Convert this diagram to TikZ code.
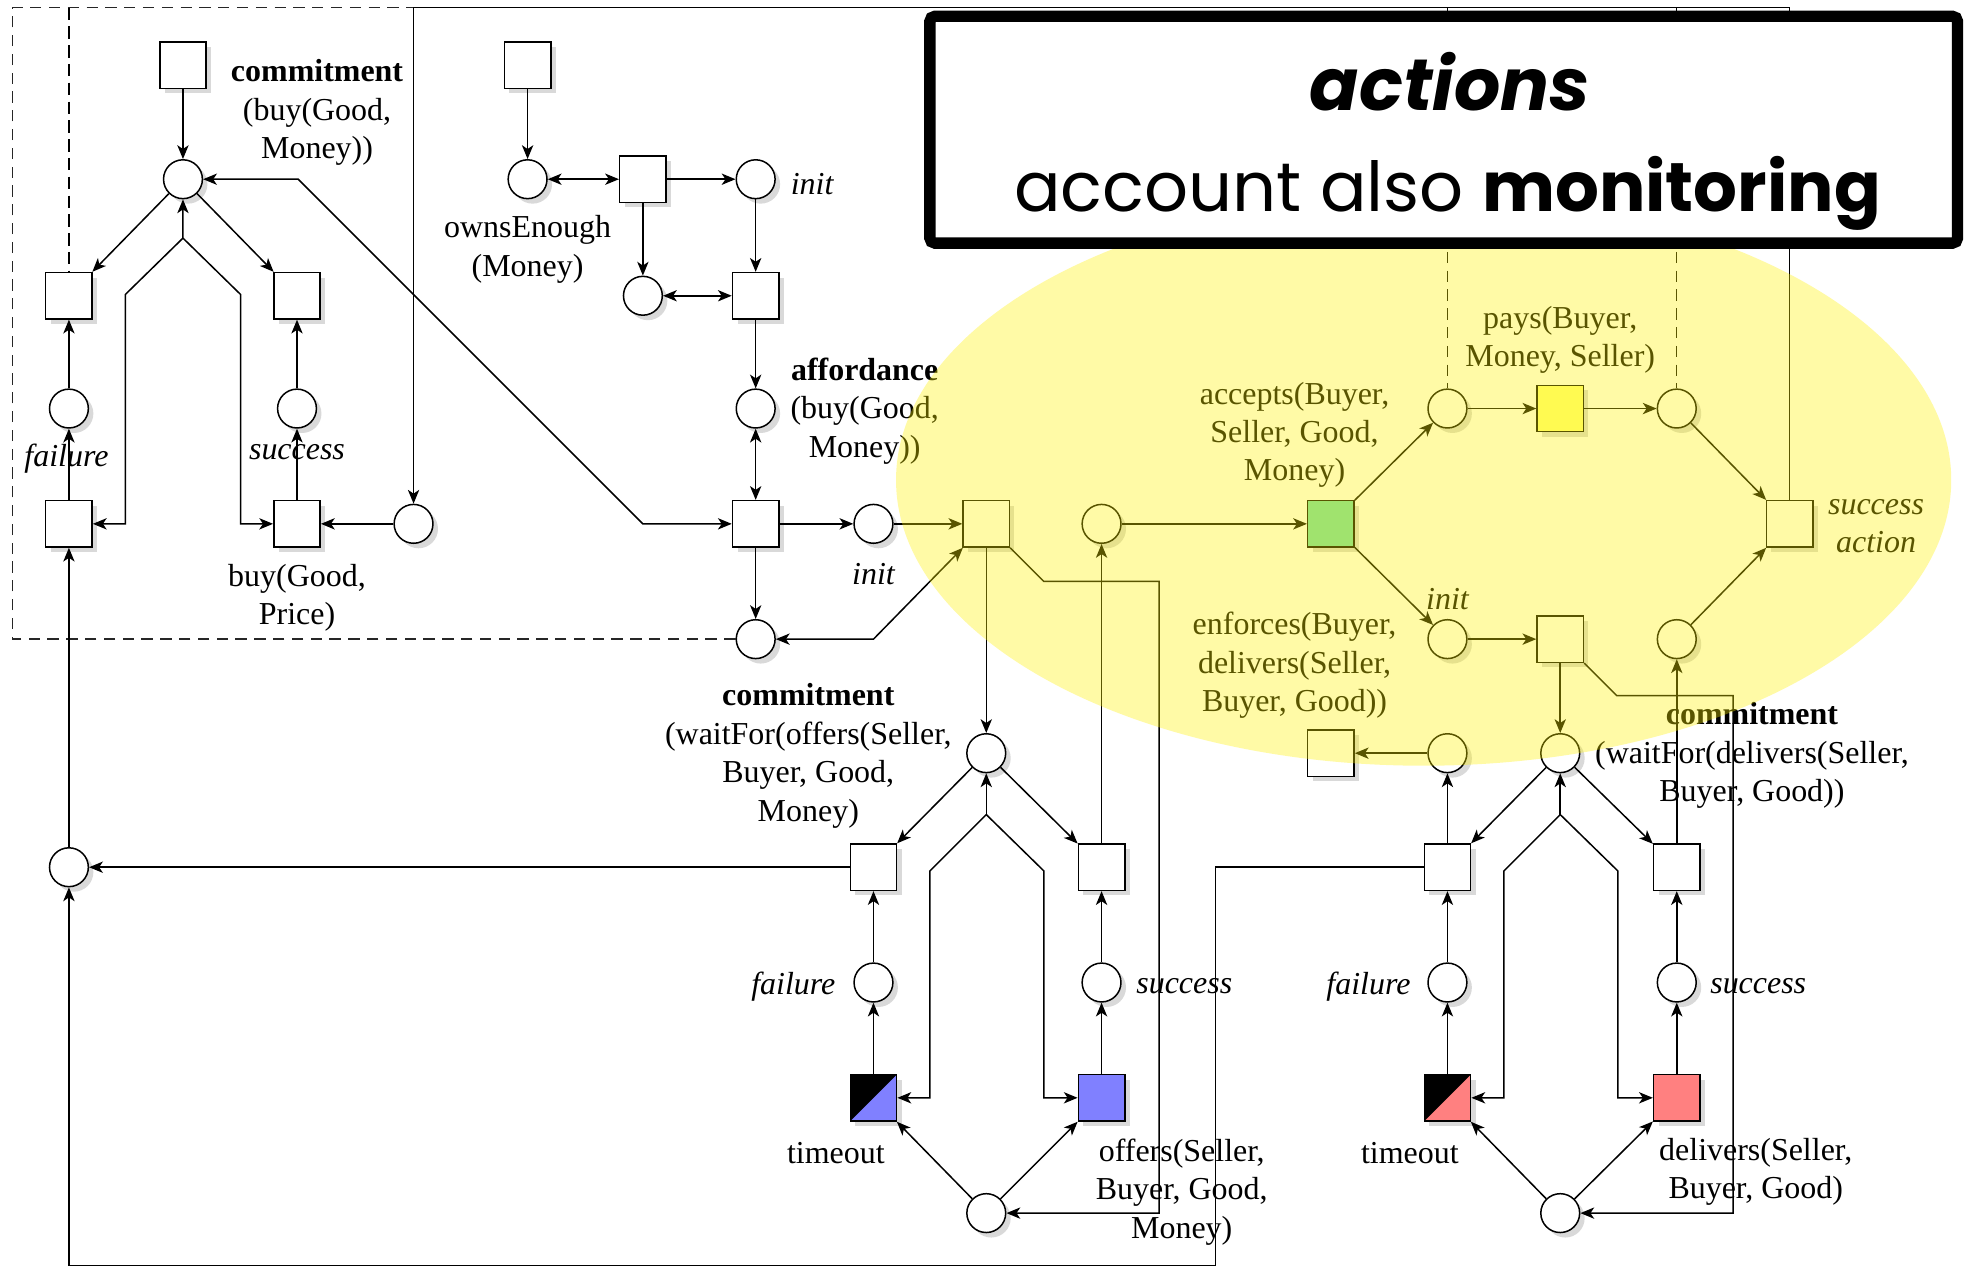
\documentclass[tikz,border=0pt]{standalone}
\usepackage{fontspec}
\setmainfont{Liberation Serif}
\newfontfamily\boxfont{Poppins}
\usetikzlibrary{arrows.meta,shadows}
\definecolor{acceptgreen}{RGB}{110,220,170}
\definecolor{paysyellow}{RGB}{255,255,125}
\definecolor{offerblue}{RGB}{128,128,255}
\definecolor{deliverred}{RGB}{255,128,128}

\begin{document}
\begin{tikzpicture}[x=1pt,y=-1pt,
  every node/.style={font=\fontsize{25.5}{30.7}\selectfont},
  shade/.style={drop shadow={shadow xshift=4pt,shadow yshift=-4pt,opacity=1,fill=black!15}},
  place/.style={circle,draw,line width=1.2pt,minimum size=31pt,inner sep=0pt,fill=white,shade},
  trans/.style={rectangle,draw,line width=1.2pt,minimum size=37pt,inner sep=0pt,fill=white,shade},
  ctrans/.style={trans,fill=#1},
  split/.style={trans,fill=#1,path picture={\fill[black]
      (path picture bounding box.north west) -- (path picture bounding box.north east)
      -- (path picture bounding box.south west) -- cycle;}},
  lbl/.style={align=center,inner sep=0pt,yshift=-3pt},
  ilbl/.style={lbl,font=\fontsize{25.5}{30.7}\selectfont\itshape},
  tip/.tip={Stealth[length=11pt,width=9pt,inset=3pt]},
  arr/.style={line width=1.2pt,-tip},
  darr/.style={line width=1.2pt,tip-tip},
  border/.style={line width=1.2pt,black!85,dash pattern=on 9pt off 6pt},
  link/.style={line width=2pt,dash pattern=on 10pt off 5pt},
  sublink/.style={line width=1pt,dash pattern=on 9pt off 6pt},
]
\useasboundingbox (0,0) rectangle (1568,1013);
\fill[white] (0,0) rectangle (1568,1013);

% ---------- buy commitment (top left) ----------
\node[trans] (tA) at (146,52) {};
\node[place] (pA) at (146,143) {};
\node[trans] (tAf) at (55,236) {};
\node[trans] (tAs) at (237,236) {};
\node[place] (pAf) at (55,326) {};
\node[place] (pAs) at (237,326) {};
\node[trans] (tAfb) at (55,418) {};
\node[trans] (tAsb) at (237,418) {};
\node[place] (pB) at (330,418) {};
\node[place] (pL) at (55,692) {};
\coordinate (apA) at (146,190);

\node[lbl] (lA) at (253,87) {\textbf{commitment}\\(buy(Good,\\Money))};
\node[ilbl] (lAf) at (53,363) {failure};
\node[ilbl] (lAs) at (237,358) {success};
\node[lbl] (lAb) at (237,474) {buy(Good,\\Price)};

% ---------- ownsEnough / affordance (top middle) ----------
\node[trans] (tO) at (421,52) {};
\node[place] (pO) at (421,143) {};
\node[trans] (tM1) at (513,143) {};
\node[place] (pI1) at (603,143) {};
\node[place] (pM) at (513,236) {};
\node[trans] (tM2) at (603,236) {};
\node[place] (pAff) at (603,326) {};
\node[trans] (tM3) at (603,418) {};
\node[place] (pI2) at (697,418) {};
\node[place] (pD) at (603,510) {};

\node[lbl] (lO) at (421,196) {ownsEnough\\(Money)};
\node[ilbl] (lI1) at (648,144) {init};
\node[lbl] (lAff) at (690,325) {\textbf{affordance}\\(buy(Good,\\Money))};
\node[ilbl] (lI2) at (697,455) {init};

% ---------- action part ----------
\node[trans] (tE) at (787,418) {};
\node[place] (pF) at (879,418) {};
\node[ctrans=acceptgreen] (tG) at (1062,418) {};
\node[place] (pP1) at (1155,326) {};
\node[ctrans=paysyellow] (tY) at (1245,326) {};
\node[place] (pP2) at (1338,326) {};
\node[trans] (tSA) at (1428,418) {};
\node[place] (pI3) at (1155,510) {};
\node[trans] (tK) at (1245,510) {};
\node[place] (pR) at (1338,510) {};
\node[place] (pU) at (1155,601) {};
\node[trans] (tV) at (1062,601) {};

\node[lbl] (lG) at (1033,344) {accepts(Buyer,\\Seller, Good,\\Money)};
\node[lbl] (lY) at (1245,268) {pays(Buyer,\\Money, Seller)};
\node[ilbl] (lSA) at (1497,417) {success\\action};
\node[ilbl] (lI3) at (1155,475) {init};
\node[lbl] (lK) at (1033,528) {enforces(Buyer,\\delivers(Seller,\\Buyer, Good))};

% ---------- waitFor offers (bottom left) ----------
\node[place] (pW1) at (787,601) {};
\node[trans] (tF1) at (697,692) {};
\node[trans] (tS1) at (879,692) {};
\node[place] (pFC1) at (697,784) {};
\node[place] (pSC1) at (879,784) {};
\node[split=offerblue] (tTO1) at (697,876) {};
\node[ctrans=offerblue] (tOF1) at (879,876) {};
\node[place] (pQ1) at (787,968) {};
\coordinate (apB) at (787,650);

\node[lbl] (lW1) at (645,600) {\textbf{commitment}\\(waitFor(offers(Seller,\\Buyer, Good,\\Money)};
\node[ilbl] (lF1) at (633,784) {failure};
\node[ilbl] (lS1) at (945,784) {success};
\node[lbl] (lTO1) at (667,917) {timeout};
\node[lbl] (lOF1) at (943,948) {offers(Seller,\\Buyer, Good,\\Money)};

% ---------- waitFor delivers (bottom right) ----------
\node[place] (pW2) at (1245,601) {};
\node[trans] (tF2) at (1155,692) {};
\node[trans] (tS2) at (1338,692) {};
\node[place] (pFC2) at (1155,784) {};
\node[place] (pSC2) at (1338,784) {};
\node[split=deliverred] (tTO2) at (1155,876) {};
\node[ctrans=deliverred] (tDL2) at (1338,876) {};
\node[place] (pQ2) at (1245,968) {};
\coordinate (apC) at (1245,650);

\node[lbl] (lW2) at (1398,600) {\textbf{commitment}\\(waitFor(delivers(Seller,\\Buyer, Good))};
\node[ilbl] (lF2) at (1092,784) {failure};
\node[ilbl] (lS2) at (1403,784) {success};
\node[lbl] (lTO2) at (1125,917) {timeout};
\node[lbl] (lDL2) at (1401,932) {delivers(Seller,\\Buyer, Good)};

% ---------- dashed scope lines ----------
\draw[border] (pD) -- (10,510) -- (10,6) -- (1428,6);
\draw[link] (55,6) -- (tAf);
\draw[sublink] (1155,6) -- (pP1);
\draw[sublink] (1338,6) -- (pP2);

% ---------- arcs: buy commitment ----------
\draw[arr] (tA) -- (pA);
\draw[arr] (pA) -- (tAf);
\draw[arr] (pA) -- (tAs);
\draw[arr] (pAf) -- (tAf);
\draw[arr] (pAs) -- (tAs);
\draw[arr] (tAfb) -- (pAf);
\draw[arr] (tAsb) -- (pAs);
\draw[darr] (tAfb) -- (100,418) -- (100,235) -- (apA) -- (pA);
\draw[arr] (apA) -- (192,235) -- (192,418) -- (tAsb);
\draw[arr] (pB) -- (tAsb);
\draw[arr] (tSA) -- (1428,6) -- (330,6) -- (pB);
\draw[arr] (pL) -- (tAfb);
\draw[arr] (tF1) -- (pL);
\draw[arr] (tF2) -- (970,692) -- (970,1010) -- (55,1010) -- (pL);

% ---------- arcs: ownsEnough / affordance ----------
\draw[arr] (tO) -- (pO);
\draw[darr] (pO) -- (tM1);
\draw[arr] (tM1) -- (pI1);
\draw[arr] (tM1) -- (pM);
\draw[arr] (pI1) -- (tM2);
\draw[darr] (pM) -- (tM2);
\draw[arr] (tM2) -- (pAff);
\draw[darr] (pAff) -- (tM3);
\draw[darr] (pA) -- (238,143) -- (513,418) -- (tM3);
\draw[arr] (tM3) -- (pI2);
\draw[arr] (tM3) -- (pD);
\draw[darr] (pD) -- (697,510) -- (tE);
\draw[arr] (pI2) -- (tE);

% ---------- arcs: action part ----------
\draw[arr] (tE) -- (pW1);
\draw[arr] (tE.south east) -- (833,464) -- (925,464) -- (925,968) -- (pQ1);
\draw[arr] (pF) -- (tG);
\draw[arr] (tS1) -- (pF);
\draw[arr] (tG) -- (pP1);
\draw[arr] (tG) -- (pI3);
\draw[arr] (pP1) -- (tY);
\draw[arr] (tY) -- (pP2);
\draw[arr] (pP2) -- (tSA);
\draw[arr] (pI3) -- (tK);
\draw[arr] (tK) -- (pW2);
\draw[arr] (pR) -- (tSA);
\draw[arr] (tK.south east) -- (1290,555) -- (1383,555) -- (1383,968) -- (pQ2);
\draw[arr] (tS2) -- (pR);
\draw[arr] (pU) -- (tV);
\draw[arr] (tF2) -- (pU);

% ---------- arcs: waitFor offers ----------
\draw[arr] (pW1) -- (tF1);
\draw[arr] (pW1) -- (tS1);
\draw[arr] (pFC1) -- (tF1);
\draw[arr] (pSC1) -- (tS1);
\draw[arr] (tTO1) -- (pFC1);
\draw[arr] (tOF1) -- (pSC1);
\draw[arr] (apB) -- (pW1);
\draw[arr] (apB) -- (742,695) -- (742,876) -- (tTO1);
\draw[arr] (apB) -- (833,695) -- (833,876) -- (tOF1);
\draw[arr] (pQ1) -- (tTO1);
\draw[arr] (pQ1) -- (tOF1);

% ---------- arcs: waitFor delivers ----------
\draw[arr] (pW2) -- (tF2);
\draw[arr] (pW2) -- (tS2);
\draw[arr] (pFC2) -- (tF2);
\draw[arr] (pSC2) -- (tS2);
\draw[arr] (tTO2) -- (pFC2);
\draw[arr] (tDL2) -- (pSC2);
\draw[arr] (apC) -- (pW2);
\draw[arr] (apC) -- (1200,695) -- (1200,876) -- (tTO2);
\draw[arr] (apC) -- (1291,695) -- (1291,876) -- (tDL2);
\draw[arr] (pQ2) -- (tTO2);
\draw[arr] (pQ2) -- (tDL2);

% ---------- highlighted region ----------
\fill[yellow,fill opacity=0.35] (1136,383) ellipse [x radius=421pt,y radius=228pt];

% ---------- caption box ----------
\draw[line width=9pt,fill=white,rounded corners=4pt] (742,13) rectangle (1562,194);
\node[anchor=base,font=\boxfont\fontsize{58}{70}\selectfont\bfseries\itshape] (cap1) at (1157,88) {actions};
\node[anchor=base,font=\boxfont\fontsize{55}{70}\selectfont] (cap2) at (1155,169) {account also \textbf{monitoring}};
\end{tikzpicture}
\end{document}
